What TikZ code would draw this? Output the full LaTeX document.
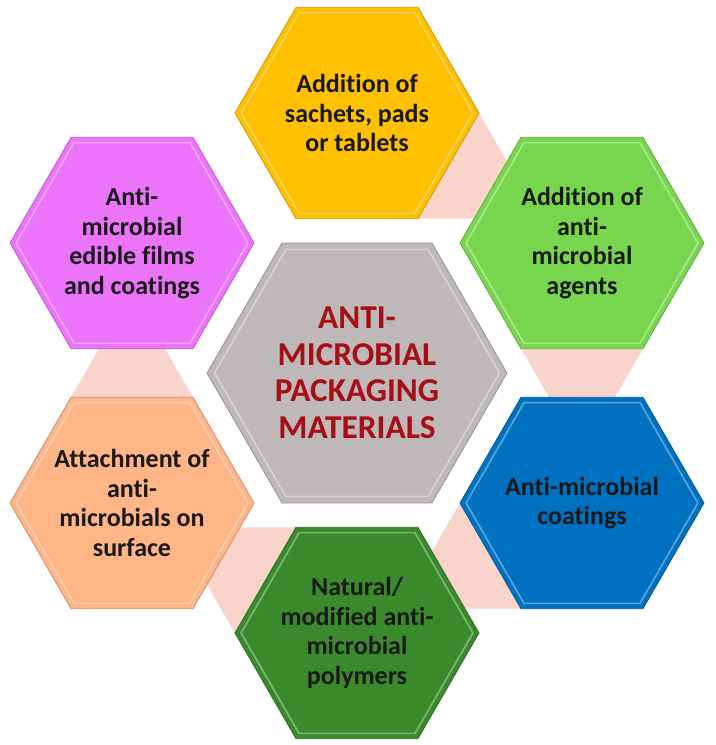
\documentclass[tikz,border=0pt]{standalone}
\usepackage{fontspec}
\setmainfont{Carlito}[Ligatures=NoCommon]
\usetikzlibrary{positioning,shapes.geometric,calc,backgrounds}

\definecolor{hexGold}{RGB}{255,192,0}
\definecolor{hexLime}{RGB}{120,214,78}
\definecolor{hexBlue}{RGB}{0,112,192}
\definecolor{hexForest}{RGB}{58,138,44}
\definecolor{hexPeach}{RGB}{255,181,134}
\definecolor{hexOrchid}{RGB}{236,116,251}
\definecolor{hexGrey}{RGB}{190,184,184}
\definecolor{coreRed}{RGB}{165,15,21}
\definecolor{linkPink}{RGB}{249,212,202}

\tikzset{
  hexcell/.style={regular polygon, regular polygon sides=6, minimum size=183pt,
    inner sep=-12pt, outer sep=0pt, fill=#1, draw=#1!80!black, line width=0.6pt,
    align=center, text=black!90, font=\bfseries\fontsize{19.5}{22.3}\selectfont},
  hexcore/.style={hexcell=#1, minimum size=225pt, text=coreRed,
    font=\bfseries\fontsize{25}{27.4}\selectfont},
  linkfill/.style={fill=linkPink, draw=none},
  bevel/.style={draw=white, opacity=.35, line width=1.3pt}
}

\begin{document}
\begin{tikzpicture}[x=0.75pt,y=0.75pt,yscale=-1,xscale=1]
\path[use as bounding box] (0,0) rectangle (715,745);

% Centre hexagon
\node[hexcore=hexGrey] (core) at (357,373) {ANTI-\\MICROBIAL\\PACKAGING\\MATERIALS};

% Outer hexagons
\node[hexcell=hexGold] (sachets) at (357,113) {Addition of\\sachets, pads\\or tablets};
\node[hexcell=hexLime] (agents) at (582,243) {Addition of\\anti-\\microbial\\agents};
\node[hexcell=hexBlue] (coatings) at (582,503) {Anti-microbial\\coatings};
\node[hexcell=hexForest] (polymers) at (357,633) {Natural/\\modified anti-\\microbial\\polymers};
\node[hexcell=hexPeach] (surface) at (132,503) {Attachment of\\anti-\\microbials on\\surface};
\node[hexcell=hexOrchid] (edible) at (132,243) {Anti-\\microbial\\edible films\\and coatings};

% Bevel lines
\foreach \h in {core,sachets,agents,coatings,polymers,surface,edible}
  \draw[bevel] ($(\h.center)!0.95!(\h.0)$)
    \foreach \a in {60,120,...,300} { -- ($(\h.center)!0.95!(\h.\a)$) } -- cycle;

% Links between neighbours
\begin{scope}[on background layer]
\fill[white] (0,0) rectangle (715,745);
\foreach \h/\p/\q/\r in {sachets/240/300/0, agents/180/240/300, coatings/300/240/180,
    polymers/60/120/180, surface/0/60/120}
  \fill[linkfill] (\h.\q) -- (\h.\r) -- ($(\h.\p)!2!(\h.\q)$) -- cycle;
\end{scope}

\end{tikzpicture}
\end{document}
